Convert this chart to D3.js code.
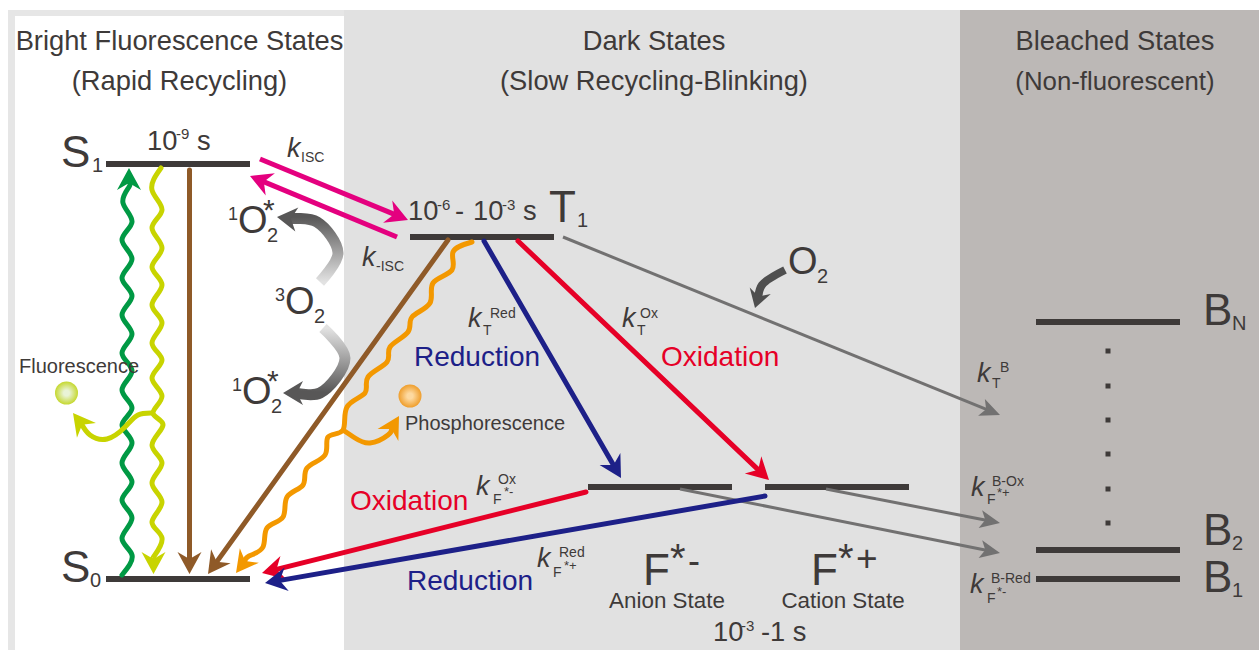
<!DOCTYPE html>
<html>
<head>
<meta charset="utf-8">
<script src="https://cdn.jsdelivr.net/npm/d3@7/dist/d3.min.js"></script>
<style>
body { margin: 0; background: #fff; }
svg { display: block; }
text { font-family: "Liberation Sans", Arial, sans-serif; fill: #3e3a39; }
</style>
</head>
<body>
<div id="content"></div>
<script>
// diagram units: col = horizontal slot, energy = height above the ground state
const REGION_NAMES = ['Bright Fluorescence States', 'Dark States', 'Bleached States'];
const REGION_NOTES = ['(Rapid Recycling)', '(Slow Recycling-Blinking)', '(Non-fluorescent)'];
const REGION_EDGES = [0.15, 3.44, 9.6, 12.59];

const LEVEL_NAMES = ['S1', 'S0', 'T1', 'F*-', 'F*+', 'BN', 'B2', 'B1'];
const LEVEL_ENERGY = [4.15, 0, 3.42, 0.92, 0.92, 2.57, 0.29, 0];
const LEVEL_FROM = [1.06, 1.06, 4.10, 5.88, 7.65, 10.36, 10.36, 10.36];
const LEVEL_TO = [2.50, 2.50, 5.54, 7.32, 9.09, 11.80, 11.80, 11.80];

const DOT_COL = 11.08;
const DOT_ENERGY = [2.28, 1.93, 1.59, 1.25, 0.90, 0.56];

const PINK_DOWN = [[2.60, 4.20], [4.08, 3.59]];
const PINK_UP = [[3.97, 3.42], [2.50, 4.03]];
const BROWN_S1 = [[1.895, 4.09], [1.895, 0.05]];
const BROWN_T1 = [[4.48, 3.39], [2.08, 0.05]];
const BLUE_T1 = [[4.84, 3.38], [6.21, 1.01]];
const RED_T1 = [[5.18, 3.38], [7.69, 0.99]];
const RED_F = [[5.86, 0.87], [2.62, 0.06]];
const BLUE_F = [[7.65, 0.83], [2.65, -0.04]];
const GREY_T1 = [[5.63, 3.42], [10.0, 1.64]];
const GREY_CATION = [[8.26, 0.90], [10.0, 0.56]];
const GREY_ANION = [[6.80, 0.90], [10.0, 0.26]];

const GREEN_WAVE = [[1.22, 0.04], [1.32, 0.24], [1.22, 0.41], [1.32, 0.61], [1.22, 0.79], [1.32, 0.97],
    [1.22, 1.16], [1.32, 1.36], [1.22, 1.54], [1.32, 1.71], [1.22, 1.89], [1.32, 2.08], [1.22, 2.26],
    [1.32, 2.45], [1.22, 2.64], [1.32, 2.83], [1.22, 3.01], [1.32, 3.20], [1.22, 3.39], [1.32, 3.57],
    [1.23, 3.76], [1.29, 3.92], [1.29, 4.11]];
const LIME_WAVE = [[1.61, 4.11], [1.52, 3.89], [1.62, 3.69], [1.52, 3.51], [1.62, 3.31], [1.52, 3.12],
    [1.62, 2.94], [1.52, 2.74], [1.62, 2.56], [1.52, 2.36], [1.62, 2.19], [1.52, 2.01], [1.62, 1.83],
    [1.53, 1.66], [1.63, 1.54], [1.52, 1.34], [1.62, 1.16], [1.52, 0.96], [1.62, 0.77], [1.52, 0.57],
    [1.62, 0.41], [1.535, 0.22], [1.535, 0.05]];
const LIME_BRANCH = [[1.53, 1.66], [1.38, 1.64], [1.25, 1.52], [1.07, 1.40], [0.90, 1.44], [0.73, 1.66]];
const ORANGE_WAVE = [[4.72, 3.37], [4.53, 3.27], [4.52, 3.09], [4.33, 2.96], [4.30, 2.76], [4.12, 2.62],
    [4.08, 2.47], [3.90, 2.32], [3.87, 2.17], [3.68, 2.02], [3.65, 1.86], [3.47, 1.72], [3.43, 1.49],
    [3.28, 1.42], [3.25, 1.24], [3.07, 1.11], [3.03, 0.94], [2.87, 0.82], [2.83, 0.62], [2.67, 0.51],
    [2.63, 0.32], [2.49, 0.23], [2.36, 0.06]];
const ORANGE_BRANCH = [[3.43, 1.49], [3.55, 1.41], [3.70, 1.36], [3.88, 1.44], [3.99, 1.63]];

const O2_UPPER = [[3.20, 2.97], [3.38, 3.26], [3.17, 3.57], [2.77, 3.62]];
const O2_LOWER = [[3.23, 2.51], [3.45, 2.21], [3.20, 1.86], [2.83, 1.86]];
const O2_RIGHT = [[7.85, 3.09], [7.62, 2.94], [7.55, 2.71]];

const GLOW_COLS = [0.665, 4.10];
const GLOW_ENERGY = [1.86, 1.83];

const width = 1259;
const height = 650;

const COLORS = {
    ink: '#3e3a39', pink: '#e4007f', brown: '#8f5a28', blue: '#1d2088', red: '#e60027',
    grey: '#727171', green: '#009944', lime: '#c8d400', orange: '#f39800', dark: '#4f4f4f'
};

var x = d3.scaleLinear().domain([0, 12.59]).range([0, width]);
var y = d3.scaleLinear().domain([0, 5.79]).range([579, 0]);

var svg = d3.select('#content')
    .append('svg')
    .attr('width', width)
    .attr('height', height)
    .attr('viewBox', `0 0 ${width} ${height}`);

var defs = svg.append('defs');

function addGlow(id, inner, outer) {
    var g = defs.append('radialGradient').attr('id', id);
    g.append('stop').attr('offset', '25%').attr('stop-color', inner);
    g.append('stop').attr('offset', '100%').attr('stop-color', outer);
}
addGlow('glow-lime', '#e9f3d6', '#c5d82f');
addGlow('glow-orange', '#fdd9a0', '#ef9e2c');

function addFade(id, from, to) {
    var g = defs.append('linearGradient')
        .attr('id', id)
        .attr('gradientUnits', 'userSpaceOnUse')
        .attr('x1', x(from[0])).attr('y1', y(from[1]))
        .attr('x2', x(to[0])).attr('y2', y(to[1]));
    g.append('stop').attr('offset', '0%').attr('stop-color', '#e2e2e2');
    g.append('stop').attr('offset', '100%').attr('stop-color', '#585757');
}
addFade('fade-upper', O2_UPPER[0], [3.20, 3.62]);
addFade('fade-lower', O2_LOWER[0], [3.20, 1.87]);

// outer frame and the three regions
svg.append('rect')
    .attr('x', 8).attr('y', 10)
    .attr('width', width - 8).attr('height', height - 10)
    .attr('fill', '#e6e6e6');

svg.selectAll('.region')
    .data(['#ffffff', '#e1e1e1', '#bcb8b6'])
    .enter()
    .append('rect')
    .attr('class', 'region')
    .attr('x', (c, i) => x(REGION_EDGES[i]))
    .attr('y', (c, i) => i == 0 ? 16 : 10)
    .attr('width', (c, i) => x(REGION_EDGES[i + 1]) - x(REGION_EDGES[i]))
    .attr('height', (c, i) => i == 0 ? height - 16 : height - 10)
    .attr('fill', c => c);

// levels
svg.selectAll('.level')
    .data(LEVEL_NAMES)
    .enter()
    .append('line')
    .attr('class', 'level')
    .attr('x1', (n, i) => x(LEVEL_FROM[i]))
    .attr('x2', (n, i) => x(LEVEL_TO[i]))
    .attr('y1', (n, i) => y(LEVEL_ENERGY[i]))
    .attr('y2', (n, i) => y(LEVEL_ENERGY[i]))
    .attr('stroke', COLORS.ink)
    .attr('stroke-width', 6);

svg.selectAll('.dot')
    .data(DOT_ENERGY)
    .enter()
    .append('rect')
    .attr('class', 'dot')
    .attr('x', x(DOT_COL) - 2.5)
    .attr('y', e => y(e) - 2.5)
    .attr('width', 5)
    .attr('height', 5)
    .attr('fill', COLORS.ink);

// shaft through the points, barbed head on the last one
function arrow(points, opts) {
    var px = points.map(p => [x(p[0]), y(p[1])]);
    var tip = px[px.length - 1];
    var prev = px[px.length - 2];
    var angle = Math.atan2(tip[1] - prev[1], tip[0] - prev[0]);
    var len = opts.len || 22;
    var half = opts.half || 12;
    var notch = opts.notch || len * 0.68;
    var cos = Math.cos(angle), sin = Math.sin(angle);

    function at(along, side) {
        return [tip[0] - along * cos - side * sin, tip[1] - along * sin + side * cos];
    }

    var shaft = px.slice(0, -1).concat([at(notch - 1, 0)]);
    var line = d3.line().curve(opts.curve || d3.curveLinear);

    svg.append('path')
        .attr('d', line(shaft))
        .attr('fill', 'none')
        .attr('stroke', opts.stroke)
        .attr('stroke-width', opts.width)
        .attr('stroke-linecap', opts.cap || 'butt');

    svg.append('path')
        .attr('d', d3.line()([tip, at(len, half), at(notch, 0), at(len, -half)]) + 'Z')
        .attr('fill', opts.head || opts.stroke);
}

arrow(GREY_T1, {stroke: COLORS.grey, width: 3, len: 20, half: 9, notch: 15});
arrow(GREY_CATION, {stroke: COLORS.grey, width: 3, len: 20, half: 9, notch: 15});
arrow(GREY_ANION, {stroke: COLORS.grey, width: 3, len: 20, half: 9, notch: 15});

arrow(PINK_DOWN, {stroke: COLORS.pink, width: 5});
arrow(PINK_UP, {stroke: COLORS.pink, width: 5});
arrow(BROWN_S1, {stroke: COLORS.brown, width: 5, cap: 'round'});
arrow(BROWN_T1, {stroke: COLORS.brown, width: 5, cap: 'round'});
arrow(BLUE_T1, {stroke: COLORS.blue, width: 5, cap: 'round'});
arrow(RED_T1, {stroke: COLORS.red, width: 5, cap: 'round'});
arrow(RED_F, {stroke: COLORS.red, width: 5, cap: 'round'});
arrow(BLUE_F, {stroke: COLORS.blue, width: 5, cap: 'round'});

arrow(GREEN_WAVE, {stroke: COLORS.green, width: 5, curve: d3.curveNatural, cap: 'round'});
arrow(LIME_WAVE, {stroke: COLORS.lime, width: 5, curve: d3.curveNatural, cap: 'round'});
arrow(LIME_BRANCH, {stroke: COLORS.lime, width: 5, curve: d3.curveNatural});
arrow(ORANGE_WAVE, {stroke: COLORS.orange, width: 5, curve: d3.curveNatural, cap: 'round'});
arrow(ORANGE_BRANCH, {stroke: COLORS.orange, width: 5, curve: d3.curveNatural});

arrow(O2_UPPER, {stroke: 'url(#fade-upper)', head: '#585757', width: 11, curve: d3.curveCatmullRom, len: 20, half: 12, notch: 14});
arrow(O2_LOWER, {stroke: 'url(#fade-lower)', head: '#585757', width: 11, curve: d3.curveCatmullRom, len: 20, half: 12, notch: 14});
arrow(O2_RIGHT, {stroke: COLORS.dark, head: COLORS.dark, width: 8, curve: d3.curveCatmullRom, len: 18, half: 11, notch: 12});

svg.selectAll('.glow')
    .data(GLOW_COLS)
    .enter()
    .append('circle')
    .attr('class', 'glow')
    .attr('cx', c => x(c))
    .attr('cy', (c, i) => y(GLOW_ENERGY[i]))
    .attr('r', 11.5)
    .attr('fill', (c, i) => i == 0 ? 'url(#glow-lime)' : 'url(#glow-orange)');

// text
function label(str, px, py, size, opts) {
    opts = opts || {};
    svg.append('text')
        .attr('x', px)
        .attr('y', py)
        .attr('font-size', size)
        .attr('font-style', opts.italic ? 'italic' : null)
        .attr('text-anchor', opts.anchor || 'start')
        .style('fill', opts.fill || null)
        .text(str);
}

[179.5, 654, 1115].forEach(function (cx, i) {
    label(REGION_NAMES[i], cx, 50, 27.3, {anchor: 'middle'});
    label(REGION_NOTES[i], cx, 90, i == 2 ? 25.8 : 27.3, {anchor: 'middle'});
});

// letter with a small subscript
function state(letter, sub, px, py, subX, size) {
    label(letter, px, py, size);
    label(sub, subX, py + 5, 20);
}
state('S', '1', 61, 167, 92, 44);
state('S', '0', 61, 582, 90, 44);
state('T', '1', 549, 222, 577, 44);
state('B', 'N', 1203, 325, 1232, 44);
state('B', '2', 1203, 545, 1232, 44);
state('B', '1', 1203, 592, 1232, 44);

label('10', 147, 150, 27.3);
label('-9', 176, 139, 15);
label('s', 197, 150, 27.3);

label('10', 408, 220, 27.3);
label('-6', 437, 210, 15);
label('-', 455, 220, 27.3);
label('10', 473, 220, 27.3);
label('-3', 502, 210, 15);
label('s', 523, 220, 27.3);

label('10', 713, 641, 27.3);
label('-3', 741, 631, 15);
label('-1 s', 761, 641, 27.3);

function oxygen(sup, px, py, star) {
    label(sup, px - 10, py - 13, 18);
    label('O', px, py, 38);
    label('2', px + 29, py + 9, 20);
    if (star) label('*', px + 25, py - 13, 30);
}
oxygen('1', 238, 233, true);
oxygen('3', 285, 314, false);
oxygen('1', 242, 404, true);
label('O', 788, 274, 38);
label('2', 817, 283, 20);

// rate constant: italic k with stacked sub and superscript
function rate(px, py, sub, subDx, subDy, sup, supDx, supDy) {
    label('k', px, py, 27, {italic: true});
    label(sub, px + subDx, py + subDy, 14);
    if (sup) label(sup, px + supDx, py + supDy, 14);
}
rate(287, 157, 'ISC', 14, 5);
rate(362, 266, '-ISC', 14, 5);
rate(468, 327, 'T', 15, 8, 'Red', 22, -9);
rate(622, 327, 'T', 15, 8, 'Ox', 18, -9);
rate(476, 495, 'F', 17, 9, 'Ox', 22, -11);
label('*-', 504, 496, 13);
rate(537, 567, 'F', 16, 10, 'Red', 22, -10);
label('*+', 564, 570, 13);
rate(977, 382, 'T', 15, 6, 'B', 23, -10);
rate(971, 496, 'F', 16, 8, 'B-Ox', 21, -10);
label('*+', 997, 497, 13);
rate(970, 593, 'F', 17, 10, 'B-Red', 21, -10);
label('*-', 997, 596, 13);

label('Reduction', 414, 366, 28, {fill: COLORS.blue});
label('Oxidation', 661, 366, 28, {fill: COLORS.red});
label('Oxidation', 350, 510, 28, {fill: COLORS.red});
label('Reduction', 407, 590, 28, {fill: COLORS.blue});
label('Fluorescence', 19, 373, 20);
label('Phosphorescence', 405, 430, 20);

label('F', 643, 585, 44);
label('*', 670, 572, 40);
label('-', 688, 573, 36);
label('F', 811, 585, 44);
label('*', 838, 572, 40);
label('+', 856, 571, 37);
label('Anion State', 667, 608, 22.4, {anchor: 'middle'});
label('Cation State', 843, 608, 22.4, {anchor: 'middle'});
</script>
</body>
</html>
